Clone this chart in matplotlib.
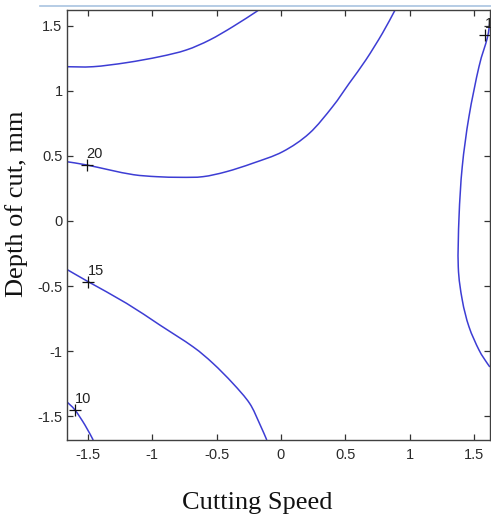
import numpy as np
import matplotlib
matplotlib.use("Agg")
import matplotlib.pyplot as plt
from matplotlib.lines import Line2D
from matplotlib.path import Path
from matplotlib.patches import PathPatch

# Contour levels of the response surface (coded cutting speed vs depth of cut)
level_25_x = [-1.665, -1.459, -1.200, -0.942, -0.736, -0.554, -0.374, -0.192, -0.175]
level_25_y = [1.184, 1.184, 1.215, 1.261, 1.312, 1.389, 1.491, 1.606, 1.619]

level_20_x = [-1.665, -1.510, -1.329, -1.145, -0.967, -0.780, -0.606, -0.425, -0.219,
              0.014, 0.221, 0.401, 0.531, 0.660, 0.789, 0.880, 0.889]
level_20_y = [0.455, 0.430, 0.391, 0.355, 0.340, 0.335, 0.340, 0.378, 0.443,
              0.532, 0.673, 0.877, 1.057, 1.236, 1.441, 1.606, 1.619]

level_15a_x = [-1.665, -1.498, -1.200, -0.942, -0.684, -0.529, -0.374, -0.244, -0.167, -0.110]
level_15a_y = [-0.371, -0.466, -0.632, -0.798, -0.965, -1.092, -1.246, -1.399, -1.553, -1.681]

level_15b_x = [1.624, 1.603, 1.539, 1.461, 1.409, 1.384, 1.378, 1.409, 1.461, 1.539, 1.603, 1.624]
level_15b_y = [1.527, 1.402, 1.184, 0.800, 0.417, 0.033, -0.351, -0.606, -0.811, -0.990, -1.092, -1.120]

level_10_x = [-1.665, -1.601, -1.523, -1.459]
level_10_y = [-1.387, -1.450, -1.566, -1.681]

# Inline contour labels: (text, x, y)
contour_labels = [("20", -1.510, 0.430), ("15", -1.498, -0.466),
                  ("10", -1.601, -1.450), ("15", 1.585, 1.430)]

x_ticks = [-1.5, -1, -0.5, 0, 0.5, 1, 1.5]
x_tick_labels = ["-1.5", "-1", "-0.5", "0", "0.5", "1", "1.5"]
y_ticks = [-1.5, -1, -0.5, 0, 0.5, 1, 1.5]
y_tick_labels = ["-1.5", "-1", "-0.5", "0", "0.5", "1", "1.5"]


def smooth_path(xs, ys):
    """Bezier path passing through every given point (Catmull-Rom tangents)."""
    p = np.column_stack([xs, ys]).astype(float)
    n = len(p)
    verts = [p[0]]
    codes = [Path.MOVETO]
    for i in range(n - 1):
        p0 = p[i - 1] if i > 0 else p[i]
        p1, p2 = p[i], p[i + 1]
        p3 = p[i + 2] if i + 2 < n else p[i + 1]
        c1 = p1 + (p2 - p0) / 6.0
        c2 = p2 - (p3 - p1) / 6.0
        verts += [c1, c2, p2]
        codes += [Path.CURVE4] * 3
    return Path(verts, codes)


fig = plt.figure(figsize=(4.91, 5.19), dpi=100)
ax = fig.add_axes([0.1358, 0.1522, 0.862, 0.8285])

line_color = "#3d3dd4"
for xs, ys in [(level_25_x, level_25_y), (level_20_x, level_20_y),
               (level_15a_x, level_15a_y), (level_15b_x, level_15b_y),
               (level_10_x, level_10_y)]:
    ax.add_patch(PathPatch(smooth_path(xs, ys), facecolor="none",
                           edgecolor=line_color, lw=1.1))

for txt, lx, ly in contour_labels:
    ax.plot([lx], [ly], marker="+", color="#111111", ms=8, mew=0.9, clip_on=False)
    ax.annotate(txt, xy=(lx, ly), xytext=(0, 2.5), textcoords="offset points",
                ha="left", va="bottom", fontsize=10.5, family="Liberation Sans",
                color="#222222", annotation_clip=False)

ax.set_xlim(-1.665, 1.624)
ax.set_ylim(-1.681, 1.619)
ax.set_xticks(x_ticks)
ax.set_xticklabels(x_tick_labels)
ax.set_yticks(y_ticks)
ax.set_yticklabels(y_tick_labels)
ax.tick_params(direction="in", length=4, width=0.9, top=True, right=True,
               colors="#333333", labelsize=10.5)
ax.tick_params(axis="x", pad=6)
ax.tick_params(axis="y", pad=3)
for lab in ax.get_xticklabels() + ax.get_yticklabels():
    lab.set_family("Liberation Sans")
    lab.set_color("#2a2a2a")
for sp in ax.spines.values():
    sp.set_color("#404040")
    sp.set_linewidth(1.0)

# Axis titles
fig.text(257 / 491, 1 - 503 / 519, "Cutting Speed", ha="center", va="center",
         fontsize=19, family="Liberation Serif", color="#111111")
fig.text(17 / 491, 1 - 203.5 / 519, "Depth of cut, mm", ha="center", va="center",
         rotation=90, fontsize=19, family="Liberation Serif", color="#111111")

# Thin frame line along the top
fig.add_artist(Line2D([40 / 491, 1.0], [1 - 5.5 / 519, 1 - 5.5 / 519],
                      transform=fig.transFigure, color="#a9c4e0", lw=1.2))

fig.savefig("out.png", dpi=100)
